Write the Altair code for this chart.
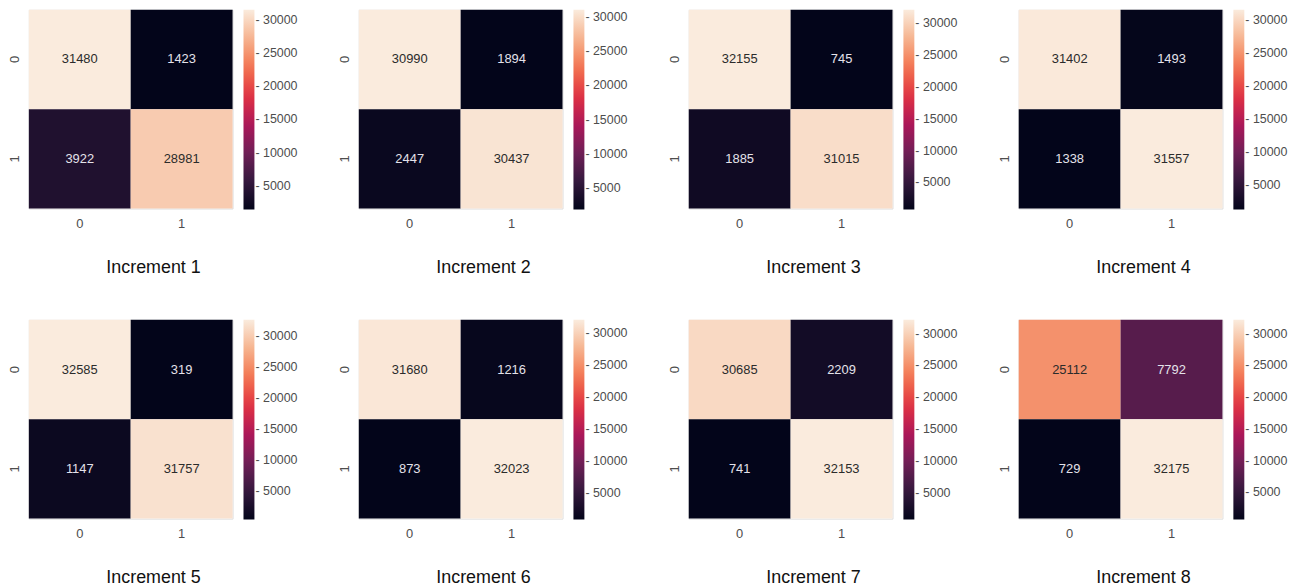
import altair as alt
import pandas as pd

# Confusion-matrix counts for each training increment
increments = [1, 2, 3, 4, 5, 6, 7, 8]
true_neg = [31480, 30990, 32155, 31402, 32585, 31680, 30685, 25112]
false_pos = [1423, 1894, 745, 1493, 319, 1216, 2209, 7792]
false_neg = [3922, 2447, 1885, 1338, 1147, 873, 741, 729]
true_pos = [28981, 30437, 31015, 31557, 31757, 32023, 32153, 32175]

class_labels = ["0", "1"]
colorbar_ticks = [5000, 10000, 15000, 20000, 25000, 30000]

# "rocket" colormap anchor colours and their relative positions
rocket_pos = [0, 1 / 7, 2 / 7, 3 / 7, 4 / 7, 5 / 7, 6 / 7, 1]
rocket_colors = ["#03051a", "#35193e", "#701f57", "#ad1759",
                 "#e13342", "#f37651", "#f6b48f", "#faebdd"]

FONT = "Liberation Sans Narrow, Arial Narrow, Liberation Sans, sans-serif"
LABEL_COLOR = "#4d4d4d"


def panel(i):
    counts = [true_neg[i], false_pos[i], false_neg[i], true_pos[i]]
    df = pd.DataFrame({
        "actual": ["0", "0", "1", "1"],
        "predicted": ["0", "1", "0", "1"],
        "count": counts,
    })
    lo, hi = min(counts), max(counts)
    domain = [lo + (hi - lo) * p for p in rocket_pos]
    mid = (lo + hi) / 2

    base = alt.Chart(df).encode(
        x=alt.X("predicted:N", sort=class_labels, title=None,
                axis=alt.Axis(labelAngle=0, ticks=False, domain=False,
                              labelPadding=9, labelFont=FONT, labelFontSize=13,
                              labelColor=LABEL_COLOR)),
        y=alt.Y("actual:N", sort=class_labels, title=None,
                axis=alt.Axis(labelAngle=270, ticks=False, domain=False,
                              labelPadding=7, labelFont=FONT, labelFontSize=13,
                              labelColor=LABEL_COLOR)),
    )
    cells = base.mark_rect().encode(
        color=alt.Color(
            "count:Q",
            scale=alt.Scale(domain=domain, range=rocket_colors, interpolate="rgb"),
            legend=alt.Legend(
                title=None, orient="right", direction="vertical",
                gradientLength=201, gradientThickness=11, offset=11,
                values=colorbar_ticks, format="d",
                labelExpr="'- ' + datum.label",
                labelFont=FONT, labelFontSize=12.5, labelColor=LABEL_COLOR,
                labelOffset=1, gradientStrokeWidth=0, labelOverlap=False,
            ),
        )
    )
    annotations = base.mark_text(font=FONT, fontSize=13).encode(
        text=alt.Text("count:Q", format="d"),
        color=alt.condition(f"datum.count > {mid}",
                            alt.value("#2b2b2b"), alt.value("#e4e2ea")),
    )
    return alt.layer(cells, annotations).properties(
        width=205, height=200,
        title=alt.TitleParams(
            f"Increment {increments[i]}", orient="bottom", anchor="middle",
            frame="bounds", font=FONT, fontSize=18, fontWeight="normal",
            color="#111111", offset=29,
        ),
    )


def row(start):
    return alt.hconcat(*[panel(i) for i in range(start, start + 4)], spacing=39) \
        .resolve_scale(color="independent").resolve_legend(color="independent")


chart = alt.vconcat(row(0), row(4), spacing=41) \
    .resolve_scale(color="independent").resolve_legend(color="independent") \
    .properties(padding={"left": 8, "top": 7, "right": 5, "bottom": 2}) \
    .configure_view(strokeWidth=0) \
    .configure(background="white")

chart.save("out.html", embed_options={"renderer": "svg", "actions": False})
